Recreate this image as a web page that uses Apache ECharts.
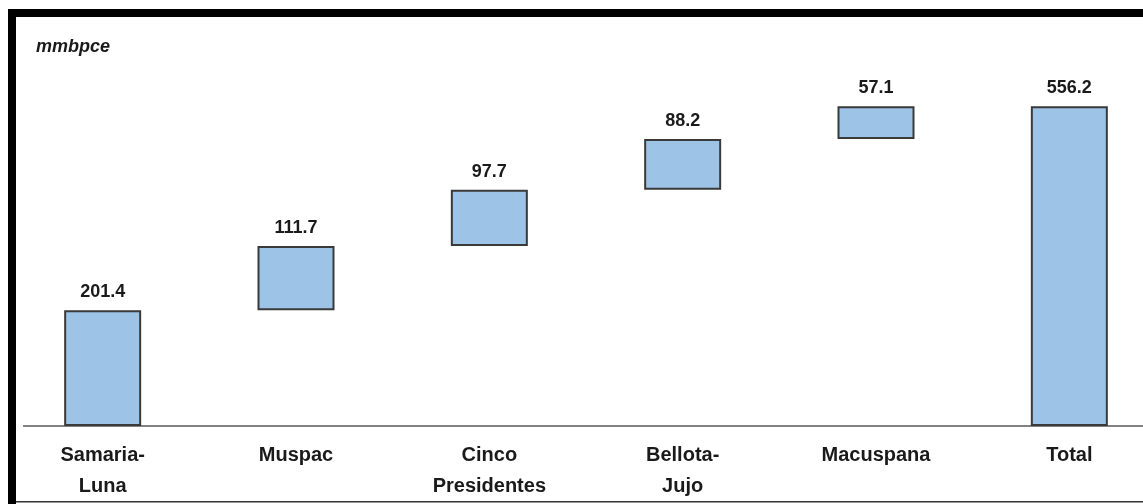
<!DOCTYPE html>
<html>
<head>
<meta charset="utf-8">
<script src="https://cdn.jsdelivr.net/npm/echarts@6/dist/echarts.min.js"></script>
<style>
  html, body { margin: 0; padding: 0; background: #fff; overflow: hidden; }
  #chart { width: 1170px; height: 504px; }
</style>
</head>
<body>
<div id="chart"></div>
<script>
// reservas por activo (mmbpce)
var categories = ['Samaria-\nLuna', 'Muspac', 'Cinco\nPresidentes', 'Bellota-\nJujo', 'Macuspana', 'Total'];
var values = [201.4, 111.7, 97.7, 88.2, 57.1, 556.2];
var labels = ['201.4', '111.7', '97.7', '88.2', '57.1', '556.2'];

// invisible base for the waterfall steps (running total, total bar starts at 0)
var base = [];
var run = 0;
for (var i = 0; i < values.length; i++) {
  if (i === values.length - 1) {
    base.push(0);
  } else {
    base.push(+run.toFixed(1));
    run += values[i];
  }
}

var myChart = echarts.init(document.getElementById('chart'));
var option = {
  backgroundColor: '#ffffff',
  animation: false,
  title: {
    text: 'mmbpce',
    left: 31,
    top: 33,
    textStyle: {
      fontFamily: 'Liberation Sans',
      fontStyle: 'italic',
      fontWeight: 'bold',
      fontSize: 18,
      color: '#1a1a1a'
    }
  },
  grid: { left: 6, width: 1160, top: 81, bottom: 78, containLabel: false },
  xAxis: {
    type: 'category',
    data: categories,
    axisLine: { lineStyle: { color: '#595959', width: 1.5 } },
    axisTick: { show: false },
    axisLabel: {
      interval: 0,
      margin: 14,
      lineHeight: 31,
      fontFamily: 'Liberation Sans',
      fontWeight: 'bold',
      fontSize: 20,
      color: '#1a1a1a'
    }
  },
  yAxis: {
    type: 'value',
    min: 0,
    max: 600,
    show: false,
    splitLine: { show: false }
  },
  series: [
    {
      name: 'base',
      type: 'bar',
      stack: 'wf',
      barWidth: 77,
      itemStyle: { color: 'transparent', borderWidth: 0 },
      emphasis: { disabled: true },
      data: base
    },
    {
      name: 'reservas',
      type: 'bar',
      stack: 'wf',
      barWidth: 77,
      itemStyle: { color: '#9dc3e6', borderColor: '#3a3a3a', borderWidth: 2 },
      label: {
        show: true,
        position: 'top',
        distance: 9,
        formatter: function (p) { return labels[p.dataIndex]; },
        fontFamily: 'Liberation Sans',
        fontWeight: 'bold',
        fontSize: 18,
        color: '#1a1a1a'
      },
      data: values
    }
  ],
  graphic: [
    // frame of the original slide
    { type: 'rect', shape: { x: 0, y: 0, width: 8, height: 504 }, style: { fill: '#fff' }, z: 100 },
    { type: 'rect', shape: { x: 16, y: 420, width: 7, height: 12 }, style: { fill: '#fff' }, z: 100 },
    { type: 'rect', shape: { x: 8, y: 9, width: 1162, height: 8 }, style: { fill: '#000' }, z: 101 },
    { type: 'rect', shape: { x: 8, y: 9, width: 8, height: 495 }, style: { fill: '#000' }, z: 101 },
    { type: 'rect', shape: { x: 16, y: 501, width: 1154, height: 1.5 }, style: { fill: '#333' }, z: 101 }
  ]
};
myChart.setOption(option);
</script>
</body>
</html>
